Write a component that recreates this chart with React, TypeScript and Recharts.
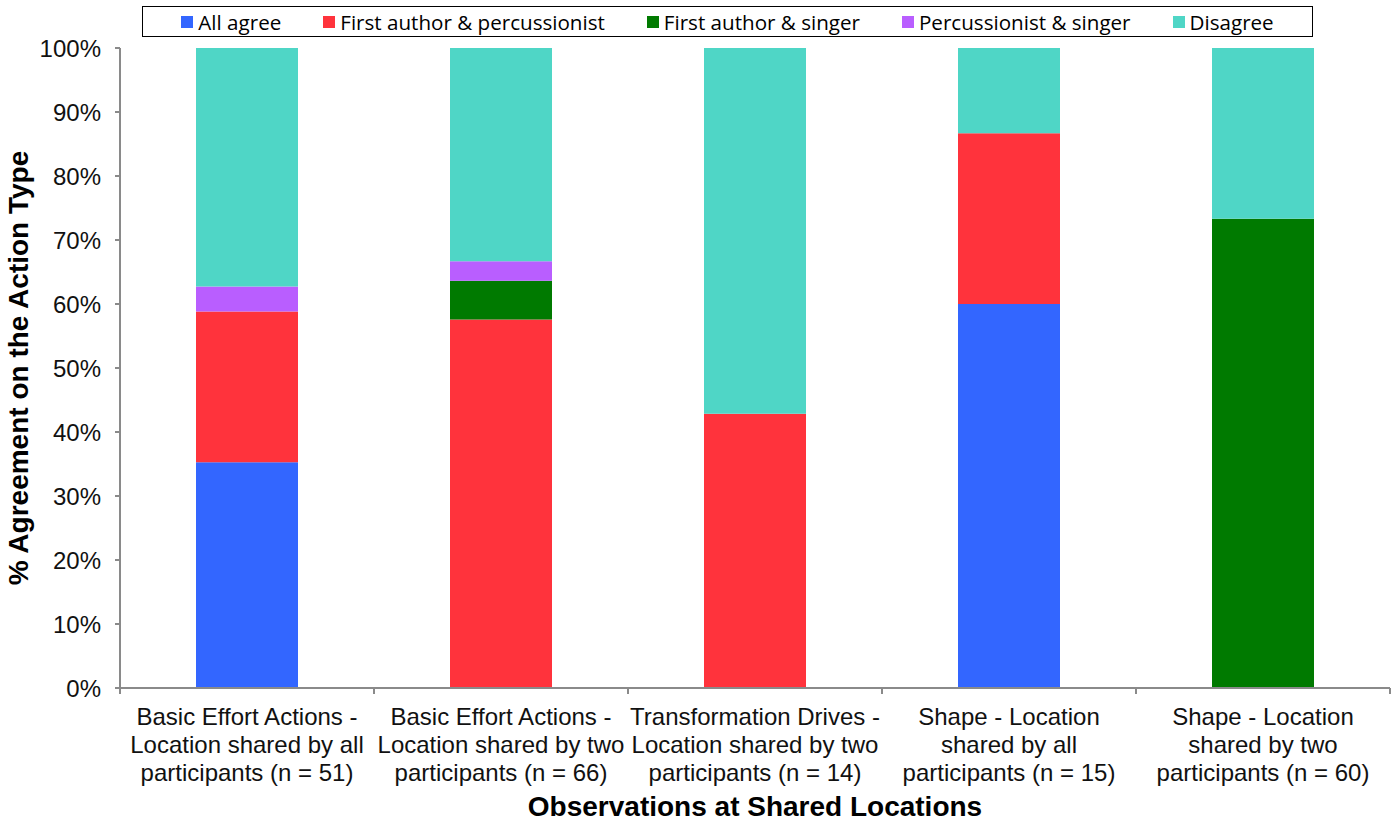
import React from 'react';
import { BarChart, Bar, XAxis, YAxis } from 'recharts';

// categories (line breaks as in the original axis)
const categories = [
  'Basic Effort Actions -\nLocation shared by all\nparticipants (n = 51)',
  'Basic Effort Actions -\nLocation shared by two\nparticipants (n = 66)',
  'Transformation Drives -\nLocation shared by two\nparticipants (n = 14)',
  'Shape - Location\nshared by all\nparticipants (n = 15)',
  'Shape - Location\nshared by two\nparticipants (n = 60)',
];

// % of observations per category
const allAgree = [35.29, 0, 0, 60.0, 0];
const firstPerc = [23.53, 57.58, 42.86, 26.67, 0];
const firstSinger = [0, 6.06, 0, 0, 73.33];
const percSinger = [3.92, 3.03, 0, 0, 0];
const disagree = [37.25, 33.33, 57.14, 13.33, 26.67];

const yTicks = [0, 10, 20, 30, 40, 50, 60, 70, 80, 90, 100];

const series = [
  { key: 'allAgree', name: 'All agree', color: '#3366ff', values: allAgree },
  { key: 'firstPerc', name: 'First author & percussionist', color: '#ff333c', values: firstPerc },
  { key: 'firstSinger', name: 'First author & singer', color: '#007a00', values: firstSinger },
  { key: 'percSinger', name: 'Percussionist & singer', color: '#b95eff', values: percSinger },
  { key: 'disagree', name: 'Disagree', color: '#4fd6c6', values: disagree },
];

const data = categories.map((name, i) => {
  const row: any = { name };
  series.forEach(s => { row[s.key] = s.values[i]; });
  return row;
});

const AXIS = '#8a8a8a';
const FONT = "'Liberation Sans', Arial, sans-serif";

// label plus tick marks at the category edges (Excel style)
const CategoryTick = ({ x, y, payload, index }: any) => {
  const lines = String(payload.value).split('\n');
  const half = payload.offset ?? 0;
  const top = y - 8;
  return (
    <g>
      <line x1={x - half} x2={x - half} y1={top} y2={top + 6} stroke={AXIS} strokeWidth={2} />
      {index === categories.length - 1 && (
        <line x1={x + half} x2={x + half} y1={top} y2={top + 6} stroke={AXIS} strokeWidth={2} />
      )}
      <text x={x} y={y} textAnchor="middle" fontFamily={FONT} fontSize={24} fill="#111">
        {lines.map((l, i) => (
          <tspan key={i} x={x} dy={i === 0 ? 29 : 28}>{l}</tspan>
        ))}
      </text>
    </g>
  );
};

const YTitle = ({ viewBox }: any) => {
  const cx = 18;
  const cy = viewBox.y + viewBox.height / 2;
  return (
    <text x={cx} y={cy} transform={`rotate(-90 ${cx} ${cy})`} textAnchor="middle" dominantBaseline="central"
      fontFamily={FONT} fontWeight="bold" fontSize={28} fill="#000">
      % Agreement on the Action Type
    </text>
  );
};

const XTitle = ({ viewBox }: any) => (
  <text x={viewBox.x + viewBox.width / 2} y={816} textAnchor="middle"
    fontFamily={FONT} fontWeight="bold" fontSize={28} fill="#000">
    Observations at Shared Locations
  </text>
);

const LegendBox = () => (
  <div style={{
    position: 'absolute', left: 142, top: 6, width: 1171, height: 31, boxSizing: 'border-box',
    border: '1.5px solid #000', background: '#fff', display: 'flex', alignItems: 'center',
    justifyContent: 'center', gap: 42, fontFamily: "'Open Sans', sans-serif", fontSize: 20.6, color: '#000',
  }}>
    {series.map(s => (
      <div key={s.key} style={{ display: 'flex', alignItems: 'center', gap: 5 }}>
        <span style={{ width: 12, height: 12, background: s.color, display: 'inline-block' }} />
        <span>{s.name}</span>
      </div>
    ))}
  </div>
);

export default function App() {
  return (
    <div style={{ position: 'absolute', left: 0, top: 0, width: 1400, height: 823, background: '#fff' }}>
      <BarChart width={1400} height={823} data={data} margin={{ top: 48, right: 10, bottom: 0, left: 0 }} barCategoryGap="30%">
        <XAxis dataKey="name" interval={0} height={135} stroke={AXIS} strokeWidth={2} tickLine={false}
          tickSize={0} tickMargin={8} tick={<CategoryTick />} label={<XTitle />} />
        <YAxis domain={[0, 100]} ticks={yTicks} width={120} interval={0} stroke={AXIS} strokeWidth={2}
          tickSize={5} tickMargin={14} tickFormatter={(v: number) => `${v}%`}
          tick={{ fill: '#111', fontSize: 24, fontFamily: FONT }} tickLine={{ stroke: AXIS, strokeWidth: 2 }}
          label={<YTitle />} />
        {series.map(s => (
          <Bar key={s.key} dataKey={s.key} stackId="a" fill={s.color} barSize={102} isAnimationActive={false} />
        ))}
      </BarChart>
      <LegendBox />
    </div>
  );
}
